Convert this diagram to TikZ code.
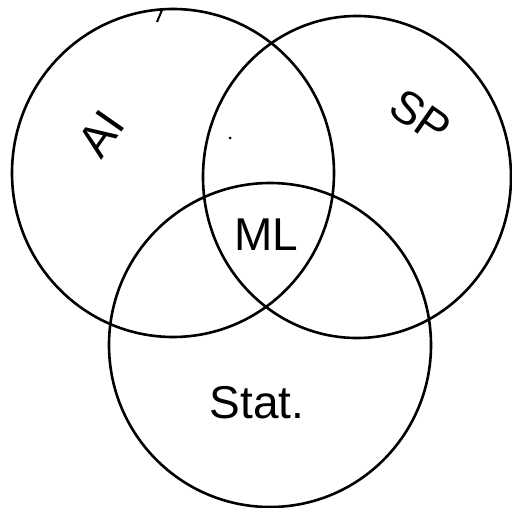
\documentclass[tikz,border=0pt]{standalone}
\usepackage{fontspec}
\setsansfont{Liberation Sans}
\begin{document}
\begin{tikzpicture}[x=1pt,y=-1pt,
  ring/.style={draw=black,line width=2.6pt},
  lbl/.style={font=\fontsize{46}{46}\selectfont\sffamily,inner sep=0pt}]
\useasboundingbox (0,0) rectangle (512,508);
\draw[ring] (173,173) circle[x radius=161, y radius=164];
\draw[ring] (357,177) circle[x radius=154, y radius=161];
\draw[ring] (270,345) circle[x radius=161, y radius=162];
\coordinate (tickA) at (162,10);
\coordinate (tickB) at (157,22);
\draw[line width=2pt] (tickA) -- (tickB);
\fill (230,138) circle[radius=1.5pt];
\node[lbl,rotate=55] (ai) at (101,134) {AI};
\node[lbl,rotate=-35] (sp) at (421,117) {SP};
\node[lbl] (ml) at (266,235) {ML};
\node[lbl] (stat) at (257,403) {Stat.};
\end{tikzpicture}
\end{document}
